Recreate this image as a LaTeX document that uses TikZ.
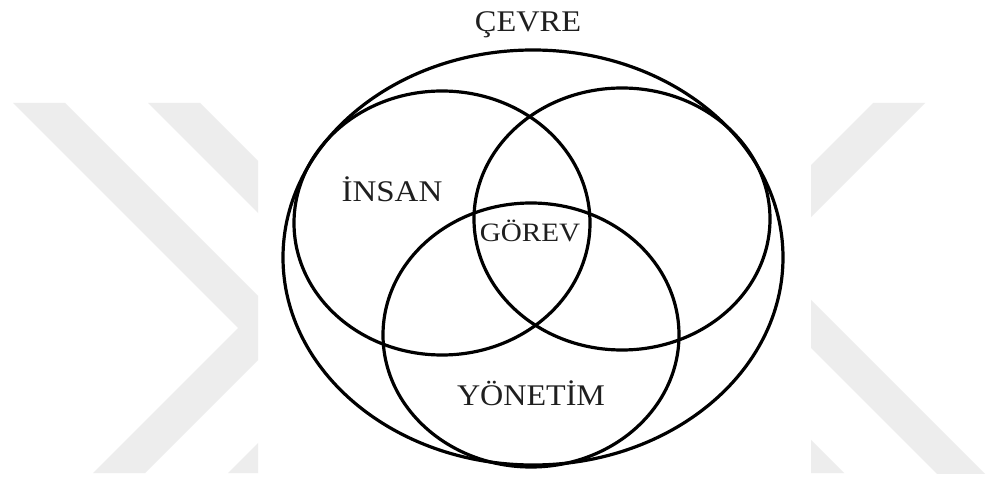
\documentclass[tikz,border=0pt]{standalone}
\usepackage{fontspec}
\setmainfont{Liberation Serif}
\definecolor{wm}{RGB}{237,237,237}
\tikzset{
  ring/.style={draw=black, line width=3.2pt},
  lbl/.style={anchor=base, inner sep=0pt, text=black!88, font=\fontsize{30}{32}\selectfont},
  mark/.style={fill=wm, draw=none}
}
\begin{document}
\begin{tikzpicture}[x=1pt, y=-1pt]
\fill[white] (0,0) rectangle (986,478);
\useasboundingbox (0,0) rectangle (986,478);
% watermark, left part
\begin{scope}
  \clip (0,103) rectangle (258,473);
  \fill[wm] (13,103) -- (65,103) -- (290,328) -- (145,473) -- (93,473) -- (238,328) -- cycle;
  \fill[wm] (148,103) -- (200,103) -- (425,328) -- (280,473) -- (228,473) -- (373,328) -- cycle;
\end{scope}
% watermark, right part
\begin{scope}
  \clip (811,103) rectangle (986,473);
  \fill[wm] (873,103) -- (925,103) -- (750,278) -- (698,278) -- cycle;
  \fill[wm] (760,249) -- (1000,489) -- (952,489) -- (760,297) -- cycle;
  \fill[wm] (780,409) -- (844,473) -- (780,473) -- cycle;
\end{scope}
% Venn diagram
\draw[ring] (533,257.5) ellipse [x radius=250, y radius=207.5];
\draw[ring] (442,223) ellipse [x radius=148, y radius=132];
\draw[ring] (622,219) ellipse [x radius=148, y radius=131];
\draw[ring] (531,335) ellipse [x radius=148, y radius=132];
% labels
\node[lbl] (cevre) at (528,32) {\scalebox{1.08}[1]{ÇEVRE}};
\node[lbl] (insan) at (392,202) {\scalebox{1.1}[1]{İNSAN}};
\node[lbl, font=\fontsize{26.5}{28}\selectfont] (gorev) at (530,242) {\scalebox{1.1}[1]{GÖREV}};
\node[lbl] (yonetim) at (531,406) {\scalebox{1.07}[1]{YÖNETİM}};
\end{tikzpicture}
\end{document}
